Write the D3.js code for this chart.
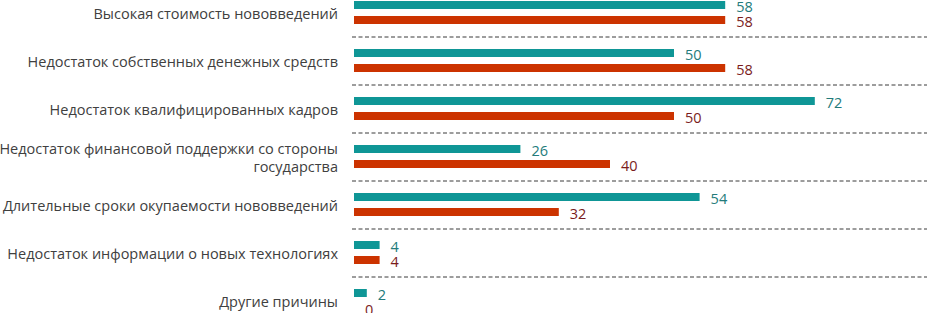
<!DOCTYPE html>
<html>
<head>
<meta charset="utf-8">
<script src="https://cdn.jsdelivr.net/npm/d3@7"></script>
<style>
	body { margin: 0; background: #fff; }
	svg { display: block; }
</style>
</head>
<body>
<div id="chart-area"></div>
<script>
let width = 927;
let height = 313;

// categories, top to bottom
let categories = [
	"Высокая стоимость нововведений",
	"Недостаток собственных денежных средств",
	"Недостаток квалифицированных кадров",
	"Недостаток финансовой поддержки со стороны государства",
	"Длительные сроки окупаемости нововведений",
	"Недостаток информации о новых технологиях",
	"Другие причины"
];

let seriesNames = ["first", "second"];
let firstValues = [58, 50, 72, 26, 54, 4, 2];
let secondValues = [58, 58, 50, 40, 32, 4, 0];

let barColors = ["#0f9696", "#cc3300"];
let labelColors = ["#237b7b", "#7a1c1c"];

let data = categories.map((c, i) => ({
	category: c,
	values: [firstValues[i], secondValues[i]]
}));

let svg = d3.select("#chart-area")
	.append("svg")
	.attr("width", width)
	.attr("height", height);

// scales
let x = d3.scaleLinear()
	.domain([0, 90])
	.range([354, 930]);

let y = d3.scaleBand()
	.domain(categories)
	.range([-11.5, 324.5]);

let ySub = d3.scalePoint()
	.domain(seriesNames)
	.range([16.5, 31.5]);

let barHeight = 8;

// dashed separators between groups
svg.selectAll("line.sep")
	.data(categories.slice(0, -1))
	.enter()
	.append("line")
	.attr("class", "sep")
	.attr("x1", 352)
	.attr("x2", width)
	.attr("y1", d => y(d) + y.bandwidth() + 0.5)
	.attr("y2", d => y(d) + y.bandwidth() + 0.5)
	.attr("stroke", "#3a3a3a")
	.attr("stroke-width", 1)
	.attr("stroke-dasharray", "4,2.5");

let groups = svg.selectAll("g.group")
	.data(data)
	.enter()
	.append("g")
	.attr("class", "group")
	.attr("transform", d => `translate(0, ${y(d.category)})`);

let items = groups.selectAll("g.item")
	.data(d => d.values.map((v, i) => ({ value: v, series: seriesNames[i], idx: i })))
	.enter()
	.append("g")
	.attr("class", "item");

items.append("rect")
	.attr("x", x(0))
	.attr("y", d => ySub(d.series) - barHeight / 2)
	.attr("width", d => x(d.value) - x(0))
	.attr("height", barHeight)
	.attr("fill", d => barColors[d.idx]);

items.append("text")
	.attr("x", d => x(d.value) + 11)
	.attr("y", d => ySub(d.series) + 1)
	.attr("dominant-baseline", "central")
	.style("font-family", "'Open Sans', sans-serif")
	.style("font-size", "14.5px")
	.attr("fill", d => labelColors[d.idx])
	.text(d => d.value);

// category labels, wrapped if too long
let labels = groups.append("text")
	.attr("x", 338)
	.attr("text-anchor", "end")
	.style("font-family", "'Open Sans', sans-serif")
	.style("font-size", "14.5px")
	.attr("fill", "#404040")
	.each(function(d) {
		let text = d3.select(this);
		let words = d.category.split(" ");
		let lines = [];
		let line = [];
		let tspan = text.append("tspan");
		words.forEach(w => {
			line.push(w);
			tspan.text(line.join(" "));
			if (tspan.node().getComputedTextLength() > 345 && line.length > 1) {
				line.pop();
				lines.push(line.join(" "));
				line = [w];
			}
		});
		lines.push(line.join(" "));
		tspan.remove();
		let lineHeight = 18;
		let cy = y.bandwidth() / 2;
		lines.forEach((l, i) => {
			text.append("tspan")
				.attr("x", 338)
				.attr("y", cy + (i - (lines.length - 1) / 2) * lineHeight + 1)
				.attr("dominant-baseline", "central")
				.text(l);
		});
	});
</script>
</body>
</html>
